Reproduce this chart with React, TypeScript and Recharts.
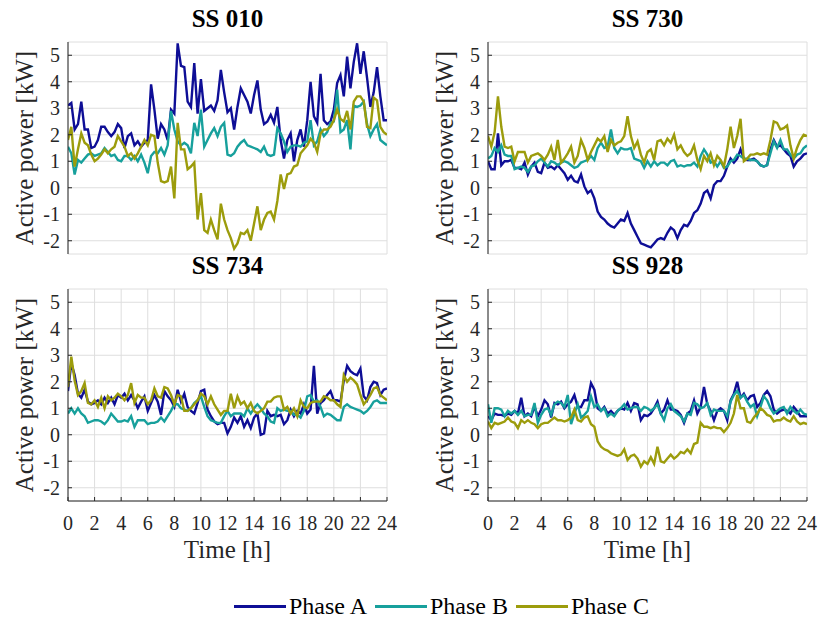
import { LineChart, Line, XAxis, YAxis, CartesianGrid } from "recharts";

// 15-minute samples over one day
const time = Array.from({ length: 97 }, (_, i) => i / 4);
const xTicks = [0, 2, 4, 6, 8, 10, 12, 14, 16, 18, 20, 22, 24];
const yTicks = [-2, -1, 0, 1, 2, 3, 4, 5];

const ss010A = [3.1,3.2,2.2,2.4,3.25,2.2,2.2,1.5,1.55,1.8,2.3,2.3,2.1,1.95,2.1,2.4,2.25,1.5,1.95,2.05,1.6,1.75,1.55,1.7,1.8,3.9,2.95,1.85,2.4,2.2,1.8,2.95,2.8,5.45,4.6,4.55,3.25,3.05,4.7,2.8,4.1,2.9,3.0,3.1,2.9,3.3,4.45,3.6,2.85,
  3.0,2.2,3.05,3.75,3.5,3.25,2.8,3.5,4.05,2.95,2.4,2.5,2.75,2.45,3.05,1.8,1.1,1.8,2.05,1.0,1.8,2.2,1.55,2.55,4.0,2.7,2.45,4.3,2.55,2.4,2.5,2.95,3.95,4.25,3.45,4.95,3.75,4.75,5.45,4.3,5.15,4.15,3.05,3.6,4.55,3.45,2.55,2.55];
const ss010B = [1.55,1.3,0.5,1.05,0.95,1.1,1.25,1.3,1.2,1.25,1.3,1.5,1.35,1.2,1.25,1.05,1.0,1.2,1.2,1.05,1.2,1.0,1.25,0.95,0.55,1.2,1.35,1.3,1.5,1.25,1.6,2.9,2.2,1.75,1.6,1.7,1.6,1.3,2.45,1.95,2.95,1.55,1.8,2.05,2.25,1.95,2.3,2.45,1.25,
  1.2,1.3,1.55,1.7,1.8,1.6,1.55,1.5,1.45,1.35,1.55,1.25,1.2,1.25,2.25,2.05,1.75,1.35,1.55,1.6,1.6,1.55,1.7,1.75,2.55,1.6,1.75,2.2,1.95,2.1,2.45,2.5,3.7,2.1,2.2,2.55,1.45,3.1,3.05,3.1,3.25,2.4,1.95,2.2,2.4,1.8,1.7,1.6];
const ss010C = [1.8,2.3,0.8,1.45,2.05,1.7,1.6,1.25,1.0,1.1,1.25,1.45,1.3,1.45,1.55,1.95,1.75,1.55,1.2,1.3,1.1,1.3,1.55,1.8,1.6,2.0,1.95,0.95,0.25,0.2,0.25,0.8,-0.4,2.45,1.45,1.45,0.7,0.8,0.95,-1.2,-0.2,-1.6,-1.7,-1.2,-1.6,-1.95,-0.6,-1.2,-1.6,
  -1.9,-2.3,-2.1,-1.7,-1.75,-1.6,-2.0,-1.35,-0.7,-1.6,-1.2,-0.95,-0.9,-1.2,-0.5,0.5,-0.05,0.5,0.55,0.8,0.85,1.3,1.45,1.6,1.85,1.7,1.35,2.05,2.2,2.2,2.3,2.55,2.95,2.6,2.5,2.9,2.2,3.25,3.45,3.45,3.25,2.3,2.25,3.4,3.3,2.3,2.1,2.0];

const ss730A = [1.0,0.7,0.7,2.05,0.85,1.0,1.0,1.05,0.75,0.75,0.7,0.95,0.5,0.8,0.95,0.6,0.55,0.95,0.75,0.8,0.7,0.85,0.7,0.55,0.3,0.45,0.25,0.2,0.5,0.05,-0.2,-0.1,-0.4,-0.9,-1.1,-1.2,-1.35,-1.45,-1.5,-1.35,-1.2,-1.25,-0.95,-1.35,-1.6,-1.85,-2.1,-2.15,-2.2,
  -2.25,-2.1,-1.95,-1.9,-1.95,-1.7,-1.5,-1.6,-1.9,-1.6,-1.4,-1.45,-1.25,-0.95,-0.85,-0.6,-0.2,-0.1,-0.4,0.1,0.25,0.25,0.45,0.8,1.1,0.95,1.1,1.45,1.1,1.05,1.05,1.1,1.0,0.85,0.8,0.85,1.45,1.8,1.55,1.6,1.45,1.3,1.2,0.8,1.0,1.1,1.25,1.3];
const ss730B = [1.1,1.2,1.5,1.35,1.6,1.25,1.2,1.2,0.7,0.75,0.8,0.75,0.6,0.8,0.85,1.0,1.1,0.95,0.8,1.0,0.95,0.85,0.95,1.0,0.95,0.85,0.75,0.8,0.95,1.0,1.05,1.2,1.05,1.5,1.7,1.5,1.55,2.2,1.5,1.3,1.5,1.45,1.45,1.5,1.1,1.05,1.0,0.75,1.0,
  0.8,1.0,0.85,0.95,0.95,0.85,1.0,1.05,0.8,0.85,0.8,0.85,0.85,0.95,0.8,1.2,1.45,1.25,0.95,1.0,0.8,1.0,0.75,0.8,1.0,1.05,1.25,1.2,1.1,1.1,1.05,1.05,1.0,0.85,0.8,0.85,1.3,1.75,1.5,1.8,1.45,1.45,1.25,1.1,1.25,1.3,1.5,1.6];
const ss730C = [1.95,1.55,2.1,3.45,2.3,1.55,1.5,1.55,1.0,1.35,1.35,1.35,0.95,1.2,1.25,1.3,1.2,1.05,1.25,1.55,1.05,1.8,0.95,1.1,1.3,1.55,0.95,1.2,1.8,1.5,1.05,1.35,1.6,1.85,1.75,1.95,1.35,1.8,1.6,1.7,1.75,1.95,2.7,1.95,1.5,1.75,1.25,0.95,1.35,
  1.45,1.05,1.75,1.8,1.6,1.85,1.7,2.0,1.45,1.6,1.35,1.2,1.3,1.6,1.05,0.7,1.2,1.0,1.3,0.85,1.2,1.05,0.8,1.45,2.3,1.5,1.95,2.6,1.0,1.1,1.25,1.25,1.3,1.25,1.3,1.25,1.8,2.5,2.45,2.2,2.25,2.35,1.6,1.1,1.5,1.8,2.0,1.95];

const ss734A = [1.65,2.7,2.25,1.55,1.4,1.7,1.25,1.15,1.2,1.3,1.15,1.4,1.2,1.4,1.15,1.5,1.4,1.55,1.3,1.5,1.3,1.0,1.25,1.45,0.9,1.2,1.5,1.25,0.75,1.65,1.45,1.3,1.05,1.7,1.25,1.55,1.05,0.9,0.8,1.2,1.65,1.7,0.95,0.7,0.5,0.4,0.45,0.45,0.05,
  0.3,0.65,0.45,0.7,0.3,0.55,0.25,0.65,0.8,0.0,0.05,0.9,0.7,0.75,0.7,0.75,0.4,0.55,0.95,0.7,0.9,0.8,1.15,0.8,0.95,2.6,0.8,1.2,1.3,1.5,1.65,1.3,1.3,1.25,2.05,2.6,2.4,2.3,2.25,2.5,1.45,1.3,1.8,2.0,1.95,1.5,1.7,1.75];
const ss734B = [0.8,1.0,0.8,1.0,0.8,0.7,0.45,0.5,0.55,0.55,0.5,0.4,0.55,0.8,0.65,0.5,0.5,0.55,0.5,0.7,0.3,0.55,0.55,0.55,0.4,0.45,0.45,0.5,0.65,0.5,0.7,0.9,1.15,1.15,1.0,0.95,0.9,1.0,1.2,1.3,1.45,1.05,0.7,0.55,0.5,0.45,0.45,0.7,0.9,
  0.7,0.8,0.8,0.8,0.7,1.0,0.8,1.0,1.15,1.0,0.8,0.7,0.5,0.45,1.0,0.9,0.95,0.9,0.9,0.75,0.75,0.65,0.9,1.45,1.5,1.25,1.3,1.05,0.7,0.8,0.75,0.65,0.55,0.55,1.05,1.15,1.05,1.0,0.95,0.9,0.8,0.9,1.05,1.25,1.3,1.2,1.2,1.2];
const ss734C = [1.8,2.95,2.05,1.5,1.65,1.95,1.2,1.15,1.3,1.05,1.4,1.0,1.45,1.3,1.4,1.55,1.45,1.3,1.5,1.95,1.2,1.5,1.4,1.4,1.15,1.3,1.75,1.45,1.4,1.8,1.75,1.5,1.15,1.5,1.45,0.9,0.9,1.0,1.15,1.3,1.55,1.45,1.15,1.45,1.15,0.95,0.75,0.9,0.9,
  1.55,1.0,1.45,1.15,1.25,1.0,1.2,0.9,0.8,0.9,1.0,1.25,1.25,1.4,1.45,1.45,0.95,1.05,0.8,1.0,0.7,1.3,1.05,1.0,1.2,1.25,1.25,1.25,1.45,1.4,1.3,1.3,1.15,1.05,2.25,2.0,2.15,2.05,1.9,1.5,1.15,1.3,1.5,1.75,1.8,1.5,1.4,1.3];

const ss928A = [0.7,0.55,0.8,0.75,0.75,0.7,0.8,0.75,0.9,0.8,1.4,0.7,0.8,0.7,1.05,0.7,0.95,1.3,1.15,0.65,1.2,1.15,1.25,1.0,1.15,1.25,1.5,1.05,1.05,1.3,1.3,1.95,1.7,1.0,0.9,1.05,0.8,0.9,0.75,0.9,1.0,0.95,1.2,0.9,1.2,1.15,0.55,0.75,0.7,
  0.8,1.0,1.25,0.8,0.95,1.3,0.95,0.95,0.9,0.75,0.45,0.8,0.9,1.3,0.8,1.05,1.8,1.15,0.9,0.55,0.9,1.0,0.9,0.55,1.3,1.55,2.0,1.4,1.55,1.3,1.45,1.5,1.05,1.2,1.5,1.65,1.45,0.95,0.8,0.9,0.95,0.9,0.8,1.05,0.9,0.7,0.7,0.7];
const ss928B = [1.15,0.45,1.0,1.0,0.95,0.7,0.9,0.8,0.9,0.75,0.9,0.7,0.75,0.75,1.2,0.45,0.75,0.95,1.0,0.75,1.15,1.25,1.2,1.05,1.5,0.4,0.8,1.15,0.65,0.75,0.9,1.45,1.05,1.15,0.9,1.0,0.7,0.8,0.7,0.9,1.0,1.15,0.95,1.0,1.05,1.05,0.9,1.05,1.0,
  0.9,1.0,1.15,0.8,0.55,1.0,1.15,0.9,0.8,0.7,0.5,0.8,0.75,1.2,1.15,1.0,1.05,1.2,0.75,0.95,0.9,0.9,0.9,0.7,1.25,1.5,1.65,1.4,1.5,1.25,1.05,1.15,0.7,1.05,1.45,1.3,1.0,0.8,0.9,1.0,1.05,0.8,1.05,0.9,0.8,0.95,0.8,0.75];
const ss928C = [0.5,0.25,0.45,0.4,0.45,0.5,0.65,0.5,0.45,0.25,0.55,0.45,0.55,0.45,0.4,0.25,0.4,0.45,0.45,0.55,0.65,0.55,0.55,0.5,0.55,0.65,0.95,0.55,0.5,0.65,0.7,0.4,0.3,-0.25,-0.45,-0.55,-0.6,-0.7,-0.75,-0.8,-0.75,-0.55,-0.95,-0.8,-0.75,-0.9,-1.2,-1.0,-1.1,
  -0.85,-1.1,-0.45,-1.0,-1.05,-0.9,-0.75,-0.9,-0.8,-0.65,-0.7,-0.55,-0.7,-0.35,-0.3,0.45,0.3,0.3,0.25,0.3,0.25,0.25,0.1,0.25,0.45,0.8,1.5,1.0,1.0,0.5,0.45,0.65,0.8,1.0,0.9,0.75,0.7,0.5,0.55,0.55,0.65,0.55,0.5,0.7,0.5,0.4,0.45,0.4];

const COLORS = { a: "#0e0e96", b: "#17a09c", c: "#9c9c0c" };
const FRAME = "#262626";
const FONT = "Liberation Serif";

const XTick = ({ x, y, payload }: any) => (
  <text x={x} y={y} dy={14} textAnchor="middle" fontFamily={FONT} fontSize={20} fill="#262626">
    {payload.value}
  </text>
);

const YTick = ({ x, y, payload }: any) => (
  <text x={x} y={y} dy={7} textAnchor="end" fontFamily={FONT} fontSize={20} fill="#262626">
    {payload.value}
  </text>
);

interface PanelProps {
  title: string;
  a: number[];
  b: number[];
  c: number[];
  left: number;
  top: number;
  showX: boolean;
}

function Panel({ title, a, b, c, left, top, showX }: PanelProps) {
  const data = time.map((t, i) => ({ t, a: a[i], b: b[i], c: c[i] }));
  const h = showX ? 300 : 260;
  return (
    <div style={{ position: "absolute", left, top, width: 400, height: h, fontFamily: FONT }}>
      <div
        style={{
          position: "absolute", left: 68, top: 5, width: 319, textAlign: "center",
          fontWeight: "bold", fontSize: 25, lineHeight: "28px", color: "#000",
        }}
      >
        {title}
      </div>
      <div
        style={{
          position: "absolute", left: 25, top: 148, width: 240, textAlign: "center",
          transform: "translate(-50%, -50%) rotate(-90deg)",
          fontSize: 25, lineHeight: "28px", color: "#262626", whiteSpace: "nowrap",
        }}
      >
        Active power [kW]
      </div>
      {showX && (
        <div
          style={{
            position: "absolute", left: 68, top: 289, width: 319, textAlign: "center",
            fontSize: 25, lineHeight: "28px", color: "#262626",
          }}
        >
          Time [h]
        </div>
      )}
      <LineChart width={400} height={h} data={data} margin={{ top: 42, right: 13, bottom: 6, left: 0 }}>
        <CartesianGrid stroke="#dedede" strokeWidth={1} />
        <XAxis
          dataKey="t" type="number" domain={[0, 24]} ticks={xTicks} interval={0}
          height={showX ? 40 : 0} tick={showX ? <XTick /> : false}
          tickSize={-4} tickMargin={19} stroke={FRAME} allowDataOverflow
        />
        <XAxis
          xAxisId="top" orientation="top" dataKey="t" type="number" domain={[0, 24]} ticks={xTicks}
          height={0} tick={false} tickSize={-4} stroke={FRAME} allowDataOverflow
        />
        <YAxis
          type="number" domain={[-2.5, 5.5]} ticks={yTicks} interval={0} width={68}
          tick={<YTick />} tickSize={-4} tickMargin={12} stroke={FRAME} allowDataOverflow
        />
        <YAxis
          yAxisId="right" orientation="right" type="number" domain={[-2.5, 5.5]} ticks={yTicks}
          width={0} tick={false} tickSize={-4} stroke={FRAME} allowDataOverflow
        />
        <Line type="linear" dataKey="a" name="Phase A" stroke={COLORS.a} strokeWidth={2.4} dot={false} isAnimationActive={false} />
        <Line type="linear" dataKey="b" name="Phase B" stroke={COLORS.b} strokeWidth={2.4} dot={false} isAnimationActive={false} />
        <Line type="linear" dataKey="c" name="Phase C" stroke={COLORS.c} strokeWidth={2.4} dot={false} isAnimationActive={false} />
      </LineChart>
    </div>
  );
}

const legendItems = [
  { name: "Phase A", color: COLORS.a },
  { name: "Phase B", color: COLORS.b },
  { name: "Phase C", color: COLORS.c },
];

export default function App() {
  return (
    <div style={{ position: "absolute", left: 0, top: 0, width: 822, height: 619, background: "#fff", overflow: "hidden" }}>
      <Panel title="SS 010" a={ss010A} b={ss010B} c={ss010C} left={0} top={0} showX={false} />
      <Panel title="SS 730" a={ss730A} b={ss730B} c={ss730C} left={420} top={0} showX={false} />
      <Panel title="SS 734" a={ss734A} b={ss734B} c={ss734C} left={0} top={247} showX />
      <Panel title="SS 928" a={ss928A} b={ss928B} c={ss928C} left={420} top={247} showX />
      <div
        style={{
          position: "absolute", left: 234, top: 592, display: "flex",
          alignItems: "center", fontFamily: FONT, fontSize: 24, lineHeight: "28px", color: "#000",
        }}
      >
        {legendItems.map((it) => (
          <div key={it.name} style={{ display: "flex", alignItems: "center", marginRight: 8 }}>
            <span style={{ display: "inline-block", width: 52, height: 3, background: it.color, marginRight: 3 }} />
            <span>{it.name}</span>
          </div>
        ))}
      </div>
    </div>
  );
}
